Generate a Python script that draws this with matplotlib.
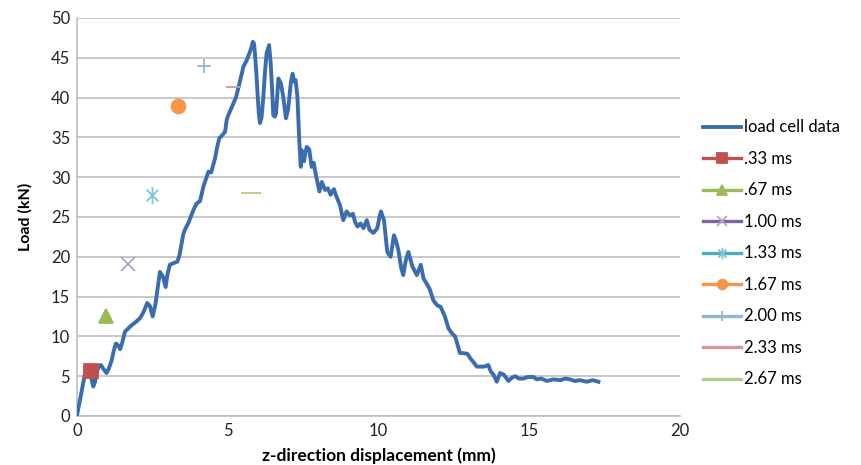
import matplotlib
matplotlib.use('Agg')
import matplotlib.pyplot as plt
from matplotlib.path import Path

plt.rcParams['font.family'] = ['Lato', 'DejaVu Sans']

# load cell curve: displacement (mm) vs load (kN)
disp = [0.0, 0.1, 0.2, 0.27, 0.35, 0.45, 0.54, 0.6, 0.65, 0.72, 0.79, 0.88, 0.98, 1.06,
        1.15, 1.22, 1.29, 1.36, 1.43, 1.5, 1.59, 1.7, 1.81, 1.95, 2.09, 2.2, 2.33, 2.42,
        2.51, 2.6, 2.75, 2.85, 2.94, 3.0, 3.08, 3.2, 3.33, 3.4, 3.47, 3.53, 3.58, 3.7,
        3.8, 3.9, 3.97, 4.08, 4.19, 4.28, 4.36, 4.45, 4.58, 4.65, 4.72, 4.8, 4.91, 4.97,
        5.02, 5.1, 5.18, 5.27, 5.35, 5.45, 5.52, 5.63, 5.74, 5.8, 5.83, 5.87, 5.9, 5.95,
        5.98, 6.03, 6.07, 6.12, 6.18, 6.24, 6.29, 6.37, 6.42, 6.46, 6.51, 6.56, 6.6, 6.68,
        6.76, 6.84, 6.93, 7.0, 7.09, 7.15, 7.2, 7.25, 7.31, 7.37, 7.42, 7.45, 7.5, 7.53,
        7.58, 7.62, 7.7, 7.78, 7.85, 7.93, 8.04, 8.12, 8.23, 8.32, 8.41, 8.52, 8.6, 8.72,
        8.83, 8.94, 9.05, 9.15, 9.22, 9.3, 9.4, 9.5, 9.61, 9.7, 9.83, 9.96, 10.03, 10.08,
        10.18, 10.29, 10.4, 10.51, 10.58, 10.66, 10.75, 10.82, 10.9, 10.99, 11.12, 11.27,
        11.4, 11.49, 11.6, 11.69, 11.82, 11.95, 12.06, 12.2, 12.32, 12.45, 12.54, 12.7,
        12.81, 12.95, 13.05, 13.14, 13.26, 13.37, 13.5, 13.64, 13.72, 13.81, 13.92, 14.03,
        14.15, 14.31, 14.42, 14.53, 14.65, 14.8, 14.95, 15.13, 15.25, 15.4, 15.58, 15.8,
        16.02, 16.2, 16.35, 16.5, 16.68, 16.9, 17.1, 17.29]
load = [0.1, 2.0, 4.0, 5.4, 6.0, 5.2, 3.7, 4.3, 5.4, 6.2, 6.4, 5.9, 5.4, 6.0,
        7.0, 8.2, 9.1, 8.9, 8.4, 9.2, 10.6, 11.0, 11.4, 11.8, 12.3, 13.0, 14.2, 13.8,
        12.5, 14.0, 18.1, 17.5, 16.2, 17.8, 19.0, 19.2, 19.4, 20.2, 21.7, 22.9, 23.4, 24.3,
        25.3, 26.2, 26.7, 27.0, 28.8, 29.8, 30.7, 30.6, 32.4, 33.8, 34.9, 35.2, 35.7, 37.3,
        37.8, 38.5, 39.2, 40.0, 41.2, 42.8, 43.9, 44.7, 45.8, 46.5, 47.0, 46.8, 45.6, 43.0,
        41.0, 38.0, 36.8, 37.5, 40.1, 43.5, 45.6, 46.6, 44.5, 41.8, 37.8, 37.6, 38.0, 42.4,
        41.8, 40.1, 37.4, 38.5, 41.8, 43.0, 42.0, 42.2, 40.1, 34.7, 31.3, 33.4, 32.5, 32.0,
        33.2, 33.8, 33.5, 31.3, 31.8, 30.1, 28.2, 29.4, 28.4, 28.6, 27.8, 28.5, 27.6, 26.5,
        24.6, 25.7, 25.2, 25.4, 24.4, 23.8, 24.2, 23.6, 24.6, 23.4, 23.0, 23.6, 25.0, 25.7,
        24.6, 20.6, 20.0, 22.7, 22.0, 20.8, 18.6, 17.7, 19.5, 20.6, 18.8, 17.7,
        19.0, 17.3, 16.6, 16.0, 14.5, 13.9, 13.7, 12.5, 11.0, 10.3, 10.0, 7.9,
        7.9, 7.8, 7.2, 6.8, 6.2, 6.2, 6.2, 6.4, 5.6, 5.2, 4.3, 5.4,
        5.2, 4.4, 4.8, 5.0, 4.7, 4.7, 4.9, 4.9, 4.6, 4.7, 4.4, 4.6,
        4.5, 4.7, 4.6, 4.4, 4.5, 4.3, 4.5, 4.3]

# model predictions at each time step
times = ['.33 ms', '.67 ms', '1.00 ms', '1.33 ms', '1.67 ms', '2.00 ms', '2.33 ms', '2.67 ms']
pred_disp = [0.45, 0.96, 1.69, 2.49, 3.35, 4.21, 5.17, 5.77]
pred_load = [5.7, 12.5, 19.1, 27.8, 39.0, 44.0, 41.3, 28.0]

# line-drawn asterisk (x with a vertical stroke)
star = Path([(-0.7, -0.7), (0.7, 0.7), (-0.7, 0.7), (0.7, -0.7), (0, -1), (0, 1)],
            [Path.MOVETO, Path.LINETO, Path.MOVETO, Path.LINETO, Path.MOVETO, Path.LINETO])

line_cols = ['#C0504D', '#9BBB59', '#8064A2', '#4BACC6', '#F79646', '#95B3D7', '#D99694', '#B3CF85']
mark_cols = ['#C0504D', '#9BBB59', '#B3A2C7', '#7FC4D8', '#F79646', '#95B3D7', '#D99694', '#B3CF85']
markers = ['s', '^', 'x', star, 'o', '+', '_', '_']
msizes = [10, 10, 10, 12, 10, 10, 10, 14]

fig = plt.figure(figsize=(8.62, 4.65), dpi=100)
ax = fig.add_axes([0.0893, 0.1054, 0.6997, 0.8559])

ax.plot(disp, load, color='#3A6DB0', lw=2.8, label='load cell data', zorder=3)
for i in range(len(times)):
    ax.plot([pred_disp[i]], [pred_load[i]], color=line_cols[i], lw=2.4,
            marker=markers[i], markersize=msizes[i], markerfacecolor=mark_cols[i],
            markeredgecolor=mark_cols[i], markeredgewidth=1.3, label=times[i], zorder=4)

ax.set_xlim(0, 20)
ax.set_ylim(0, 50)
ax.set_xticks(range(0, 21, 5))
ax.set_yticks(range(0, 51, 5))
ax.yaxis.grid(True, color='#BFBFBF', lw=1.2)
ax.set_axisbelow(True)
for s in ['top', 'right']:
    ax.spines[s].set_visible(False)
for s in ['left', 'bottom']:
    ax.spines[s].set_color('#BFBFBF')
    ax.spines[s].set_linewidth(1.2)
ax.tick_params(length=0, labelsize=12, colors='#222222', pad=5)

ax.set_xlabel('z-direction displacement (mm)', fontsize=12.5, fontweight='bold', labelpad=6)
ax.set_ylabel('Load (kN)', fontsize=11.5, fontweight='bold', labelpad=13)

fig.legend(loc='center left', bbox_to_anchor=(0.815, 0.455), frameon=False,
           borderpad=0, borderaxespad=0,
           fontsize=12, handlelength=2.3, handletextpad=0.2, labelspacing=0.93,
           markerscale=0.7)

fig.savefig('out.png', dpi=100)
